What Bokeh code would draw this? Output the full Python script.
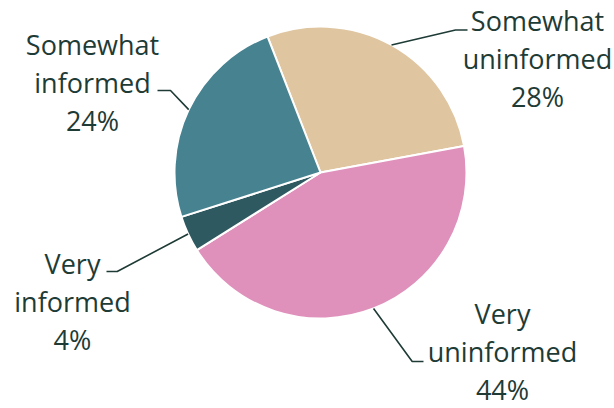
import math
from bokeh.plotting import figure
from bokeh.models import Range1d, ColumnDataSource
from bokeh.core.properties import value
from bokeh.embed import file_html
from bokeh.resources import INLINE

# ---- data ----
categories = ["Somewhat uninformed", "Very uninformed", "Very informed", "Somewhat informed"]
values = [28, 44, 4, 24]
colors = ["#DFC5A0", "#DF91BC", "#2F5961", "#478291"]

# ---- layout (picture pixels, y measured from top) ----
W, H = 614, 408
start_clock_deg = 338.7           # first slice starts here, clockwise from 12 o'clock
center = (320.0, 172.0)
radius = 146.0
baseline_shift = -8.5             # renderer places alphabetic baseline lower
label_anchor = [(537, 28.3), (502, 321.5), (72, 271.0), (92, 52.7)]   # centre x, first baseline
leader_elbow = [(455, 29.5), (411.7, 361.0), (116.7, 271.0), (170, 90.0)]
leader_end = [(467, 29.5), (423, 361.0), (106, 271.0), (157, 90.0)]
line_step = 38.0
text_color = "#1E3B36"
font = "Open Sans"
font_size = "27px"


def Y(py):
    return H - py


p = figure(width=W, height=H, output_backend="svg", toolbar_location=None,
           x_range=Range1d(0, W), y_range=Range1d(0, H),
           min_border=0, min_border_left=0, min_border_right=0,
           min_border_top=0, min_border_bottom=0)
p.axis.visible = False
p.grid.visible = False
p.outline_line_color = None
p.background_fill_color = "white"
p.border_fill_color = "white"

total = float(sum(values))
starts, ends, mids = [], [], []
acc = 0.0
for v in values:
    t1 = start_clock_deg + acc / total * 360.0
    t2 = t1 + v / total * 360.0
    acc += v
    starts.append(math.radians(90 - t2))
    ends.append(math.radians(90 - t1))
    mids.append((t1 + t2) / 2.0)

src = ColumnDataSource(dict(x=[center[0]] * len(values), y=[Y(center[1])] * len(values),
                            start=starts, end=ends, color=colors, cat=categories, val=values))
p.wedge(x="x", y="y", radius=radius, start_angle="start", end_angle="end",
        fill_color="color", line_color="white", line_width=2, source=src)

# leader lines
xs, ys = [], []
for i, m in enumerate(mids):
    a = math.radians(m)
    sx = center[0] + radius * math.sin(a)
    sy = center[1] - radius * math.cos(a)
    xs.append([sx, leader_elbow[i][0], leader_end[i][0]])
    ys.append([Y(sy), Y(leader_elbow[i][1]), Y(leader_end[i][1])])
p.multi_line(xs=xs, ys=ys, line_color=text_color, line_width=1.6)

# labels
tx, ty, tt = [], [], []
for i, (cat, v) in enumerate(zip(categories, values)):
    lines = cat.split(" ") + [f"{v}%"]
    for j, ln in enumerate(lines):
        tx.append(label_anchor[i][0])
        ty.append(Y(label_anchor[i][1] + baseline_shift + j * line_step))
        tt.append(ln)
p.text(x=tx, y=ty, text=tt, text_align="center", text_baseline="alphabetic",
       text_font=value(font), text_font_size=font_size, text_color=text_color)

open("out.html", "w").write(file_html(p, INLINE))
